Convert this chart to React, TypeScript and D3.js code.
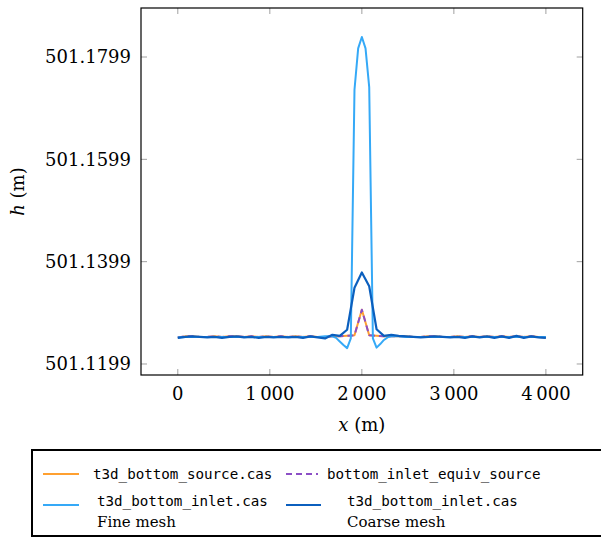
import React from 'react';
import * as d3 from 'd3';

// coarse mesh / source runs share the 80 m grid
const xCoarse = d3.range(0, 4001, 80);
const coarseH = [
  501.1250, 501.1252, 501.1253, 501.1252, 501.1251, 501.1252, 501.1250, 501.1252, 501.1253, 501.1251,
  501.1252, 501.1250, 501.1252, 501.1251, 501.1252, 501.1251, 501.1252, 501.1250, 501.1253, 501.1251,
  501.1249, 501.1256, 501.1254, 501.1266, 501.1348, 501.1378, 501.1351, 501.1267, 501.1254, 501.1256,
  501.1254, 501.1253, 501.1252, 501.1251, 501.1252, 501.1253, 501.1252, 501.1251, 501.1252, 501.1250,
  501.1253, 501.1251, 501.1253, 501.1250, 501.1253, 501.1250, 501.1254, 501.1250, 501.1253, 501.1251,
  501.1250
];
const sourceH = [
  501.1251, 501.1253, 501.1253, 501.1252, 501.1252, 501.1253, 501.1252, 501.1253, 501.1253, 501.1252,
  501.1253, 501.1252, 501.1253, 501.1252, 501.1253, 501.1252, 501.1253, 501.1252, 501.1253, 501.1252,
  501.1252, 501.1253, 501.1253, 501.1254, 501.1255, 501.1305, 501.1255, 501.1254, 501.1253, 501.1253,
  501.1253, 501.1253, 501.1252, 501.1252, 501.1253, 501.1253, 501.1252, 501.1252, 501.1253, 501.1252,
  501.1253, 501.1252, 501.1253, 501.1252, 501.1253, 501.1252, 501.1253, 501.1252, 501.1253, 501.1252,
  501.1251
];
const equivH = sourceH;

// fine mesh: refined near the inlet
const xFine = [
  0, 80, 160, 240, 320, 400, 480, 560, 640, 720, 800, 880, 960, 1040, 1120, 1200, 1280, 1360, 1440, 1520,
  1600, 1680, 1720, 1760, 1800, 1840, 1880, 1920, 1960, 2000, 2040, 2080, 2120, 2160, 2200, 2240, 2280, 2320,
  2400, 2480, 2560, 2640, 2720, 2800, 2880, 2960, 3040, 3120, 3200, 3280, 3360, 3440, 3520, 3600, 3680, 3760,
  3840, 3920, 4000
];
const fineH = [
  501.1251, 501.1252, 501.1252, 501.1252, 501.1252, 501.1252, 501.1252, 501.1252, 501.1252, 501.1252,
  501.1252, 501.1252, 501.1252, 501.1252, 501.1252, 501.1252, 501.1252, 501.1252, 501.1252, 501.1252,
  501.1253, 501.1253, 501.1250, 501.1243, 501.1236, 501.1230, 501.1249, 501.1735, 501.1816, 501.1838,
  501.1816, 501.1740, 501.1249, 501.1231, 501.1238, 501.1246, 501.1251, 501.1253,
  501.1253, 501.1252, 501.1252, 501.1252, 501.1252, 501.1252, 501.1252, 501.1252, 501.1252, 501.1252,
  501.1252, 501.1252, 501.1252, 501.1252, 501.1252, 501.1252, 501.1252, 501.1252, 501.1252, 501.1252,
  501.1252
];

const xTicks = [0, 1000, 2000, 3000, 4000];
const yTicks = [501.1199, 501.1399, 501.1599, 501.1799];

const colors = { source: '#ffa030', equiv: '#8c4fc6', fine: '#35a9f7', coarse: '#0b5fbe' };

const App = () => {
  const box = { left: 141, right: 582.7, top: 8, bottom: 375 };
  const x = d3.scaleLinear().domain([-400, 4400]).range([box.left, box.right]);
  const y = d3.scaleLinear().domain([501.11775, 501.18948]).range([box.bottom, box.top]);

  const line = d3
    .line<[number, number]>()
    .x(d => x(d[0]))
    .y(d => y(d[1]));
  const pts = (xs: number[], ys: number[]) => xs.map((v, i) => [v, ys[i]] as [number, number]);

  const serif = 'DejaVu Serif';
  const mono = 'DejaVu Sans Mono';
  const fmtX = (v: number) => (v >= 1000 ? Math.floor(v / 1000) + '\u2009' + '000' : String(v));

  return (
    <svg width={601} height={537} style={{ position: 'absolute', left: 0, top: 0 }}>
      <rect x={0} y={0} width={601} height={537} fill="white" />
      <g>
        {xTicks.map(t => (
          <g key={'x' + t}>
            <line x1={x(t)} x2={x(t)} y1={box.bottom} y2={box.bottom - 6} stroke="#a0a0a0" strokeWidth={1} />
            <line x1={x(t)} x2={x(t)} y1={box.top} y2={box.top + 6} stroke="#a0a0a0" strokeWidth={1} />
            <text x={x(t)} y={box.bottom + 25} textAnchor="middle" fontFamily={serif} fontSize={18}>
              {fmtX(t)}
            </text>
          </g>
        ))}
        {yTicks.map(t => (
          <g key={'y' + t}>
            <line x1={box.left} x2={box.left + 6} y1={y(t)} y2={y(t)} stroke="#a0a0a0" strokeWidth={1} />
            <line x1={box.right} x2={box.right - 6} y1={y(t)} y2={y(t)} stroke="#a0a0a0" strokeWidth={1} />
            <text x={box.left - 10} y={y(t)} dy="0.36em" textAnchor="end" fontFamily={serif} fontSize={18}>
              {t.toFixed(4)}
            </text>
          </g>
        ))}
      </g>
      <g fill="none" strokeLinejoin="round">
        <path d={line(pts(xCoarse, sourceH)) || ''} stroke={colors.source} strokeWidth={2} />
        <path d={line(pts(xCoarse, equivH)) || ''} stroke={colors.equiv} strokeWidth={2} strokeDasharray="6,4" />
        <path d={line(pts(xFine, fineH)) || ''} stroke={colors.fine} strokeWidth={2} />
        <path d={line(pts(xCoarse, coarseH)) || ''} stroke={colors.coarse} strokeWidth={2.2} />
      </g>
      <rect
        x={box.left}
        y={box.top}
        width={box.right - box.left}
        height={box.bottom - box.top}
        fill="none"
        stroke="black"
        strokeWidth={1.2}
      />
      <text x={(box.left + box.right) / 2} y={431} textAnchor="middle" fontFamily={serif} fontSize={18}>
        <tspan fontStyle="italic">x</tspan> (m)
      </text>
      <text
        transform={`translate(24, ${(box.top + box.bottom) / 2}) rotate(-90)`}
        textAnchor="middle"
        fontFamily={serif}
        fontSize={18}
      >
        <tspan fontStyle="italic">h</tspan> (m)
      </text>

      {/* legend */}
      <rect x={32} y={450} width={600} height={86} fill="white" stroke="black" strokeWidth={2} />
      <line x1={43} x2={79} y1={474} y2={474} stroke={colors.source} strokeWidth={2} />
      <text x={93} y={474} dy="0.35em" fontFamily={mono} fontSize={14.2}>
        t3d_bottom_source.cas
      </text>
      <line x1={286} x2={318} y1={474} y2={474} stroke={colors.equiv} strokeWidth={2} strokeDasharray="6,4" />
      <text x={327} y={474} dy="0.35em" fontFamily={mono} fontSize={14.2}>
        bottom_inlet_equiv_source
      </text>
      <line x1={43} x2={79} y1={505} y2={505} stroke={colors.fine} strokeWidth={2} />
      <text x={97} y={501} dy="0.35em" fontFamily={mono} fontSize={14.2}>
        t3d_bottom_inlet.cas
      </text>
      <text x={97} y={522} dy="0.35em" fontFamily={serif} fontSize={15}>
        Fine mesh
      </text>
      <line x1={286} x2={321} y1={505} y2={505} stroke={colors.coarse} strokeWidth={2.2} />
      <text x={347} y={501} dy="0.35em" fontFamily={mono} fontSize={14.2}>
        t3d_bottom_inlet.cas
      </text>
      <text x={347} y={522} dy="0.35em" fontFamily={serif} fontSize={15}>
        Coarse mesh
      </text>
    </svg>
  );
};

export default App;
